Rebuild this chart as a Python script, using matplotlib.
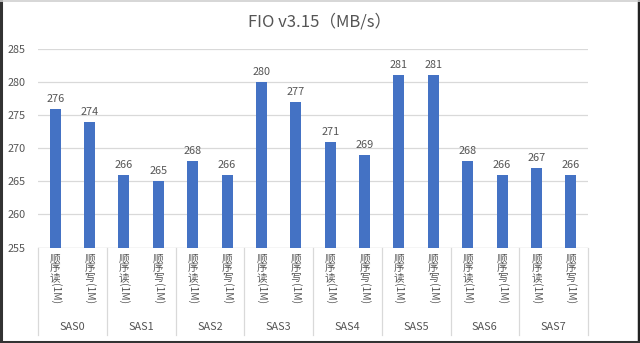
import matplotlib
matplotlib.use("Agg")
import matplotlib.pyplot as plt
from matplotlib.lines import Line2D
from matplotlib.transforms import blended_transform_factory

plt.rcParams['font.family'] = ['Noto Sans CJK SC', 'DejaVu Sans']

# ---- data ----
groups = ["SAS0", "SAS1", "SAS2", "SAS3", "SAS4", "SAS5", "SAS6", "SAS7"]
ops = ["顺序读", "顺序写"]
op_suffix = "(1M)"
read_mbps = [276, 266, 268, 280, 271, 281, 268, 267]
write_mbps = [274, 265, 266, 277, 269, 281, 266, 266]
y_ticks = [255, 260, 265, 270, 275, 280, 285]
title = "FIO v3.15（MB/s）"

W, H = 640, 343
BAR = "#4472C4"
TXT = "#555555"
GRID = "#D9D9D9"

fig = plt.figure(figsize=(W / 100, H / 100), dpi=100)
fig.patch.set_facecolor("white")


def fy(py):
    """pixel row (from top) -> figure fraction"""
    return 1 - py / H


def fx(px):
    return px / W


ax_left, ax_right, ax_top, ax_bot = 38, 588, 49, 247.5
ax = fig.add_axes([fx(ax_left), fy(ax_bot), (ax_right - ax_left) / W, (ax_bot - ax_top) / H])

values = []
labels = []
for r, w in zip(read_mbps, write_mbps):
    values += [r, w]
    labels += ops
xs = list(range(len(values)))

bars = ax.bar(xs, values, width=0.32, color=BAR, zorder=3)
ax.set_ylim(y_ticks[0], y_ticks[-1])
ax.set_xlim(-0.5, len(values) - 0.5)
ax.set_yticks(y_ticks)
ax.set_yticklabels([str(t) for t in y_ticks], fontsize=7.8, color=TXT)
ax.tick_params(axis='y', length=0, pad=9)
ax.set_xticks([])
ax.grid(axis='y', color=GRID, linewidth=0.9, zorder=0)
for s in ax.spines.values():
    s.set_visible(False)
ax.axhline(y_ticks[0], color=GRID, linewidth=0.9, zorder=2)

# value labels
for x, v in zip(xs, values):
    ax.annotate(str(v), (x, v), xytext=(0, 10), textcoords='offset pixels',
                ha='center', va='center', fontsize=7.8, color=TXT)

tr = blended_transform_factory(ax.transData, fig.transFigure)

# vertical category labels: CJK glyphs stacked upright, suffix rotated
for x, lab in zip(xs, labels):
    y = 258.5
    for ch in lab:
        ax.text(x, fy(y), ch, transform=tr, ha='center', va='center',
                fontsize=7.6, color=TXT, clip_on=False)
        y += 9.8
    ax.text(x, fy(y - 4.8), op_suffix, transform=tr, ha='center', va='top',
            rotation=-90, fontsize=7.4, color=TXT, clip_on=False)

# group labels and separators
for g, name in enumerate(groups):
    ax.text(2 * g + 0.5, fy(327), name, transform=tr, ha='center', va='center',
            fontsize=7.8, color=TXT, clip_on=False)
for b in range(len(groups) + 1):
    xb = 2 * b - 0.5
    ax.add_line(Line2D([xb, xb], [fy(ax_bot), fy(335)], transform=tr,
                       color=GRID, linewidth=0.9, clip_on=False))

fig.text(0.5, fy(22), title, ha='center', va='center', fontsize=12, color=TXT)

# outer frame
fig.add_artist(Line2D([fx(1), fx(1)], [0, 1], transform=fig.transFigure, color="#333333", linewidth=2.2))
fig.add_artist(Line2D([fx(638.5), fx(638.5)], [0, 1], transform=fig.transFigure, color="#222222", linewidth=2.5))
fig.add_artist(Line2D([0, 1], [fy(342), fy(342)], transform=fig.transFigure, color="#333333", linewidth=2.2))
fig.add_artist(Line2D([0, 1], [fy(0.7), fy(0.7)], transform=fig.transFigure, color="#D0D0D0", linewidth=1.2))

fig.savefig("out.png", dpi=100, facecolor=fig.get_facecolor())
